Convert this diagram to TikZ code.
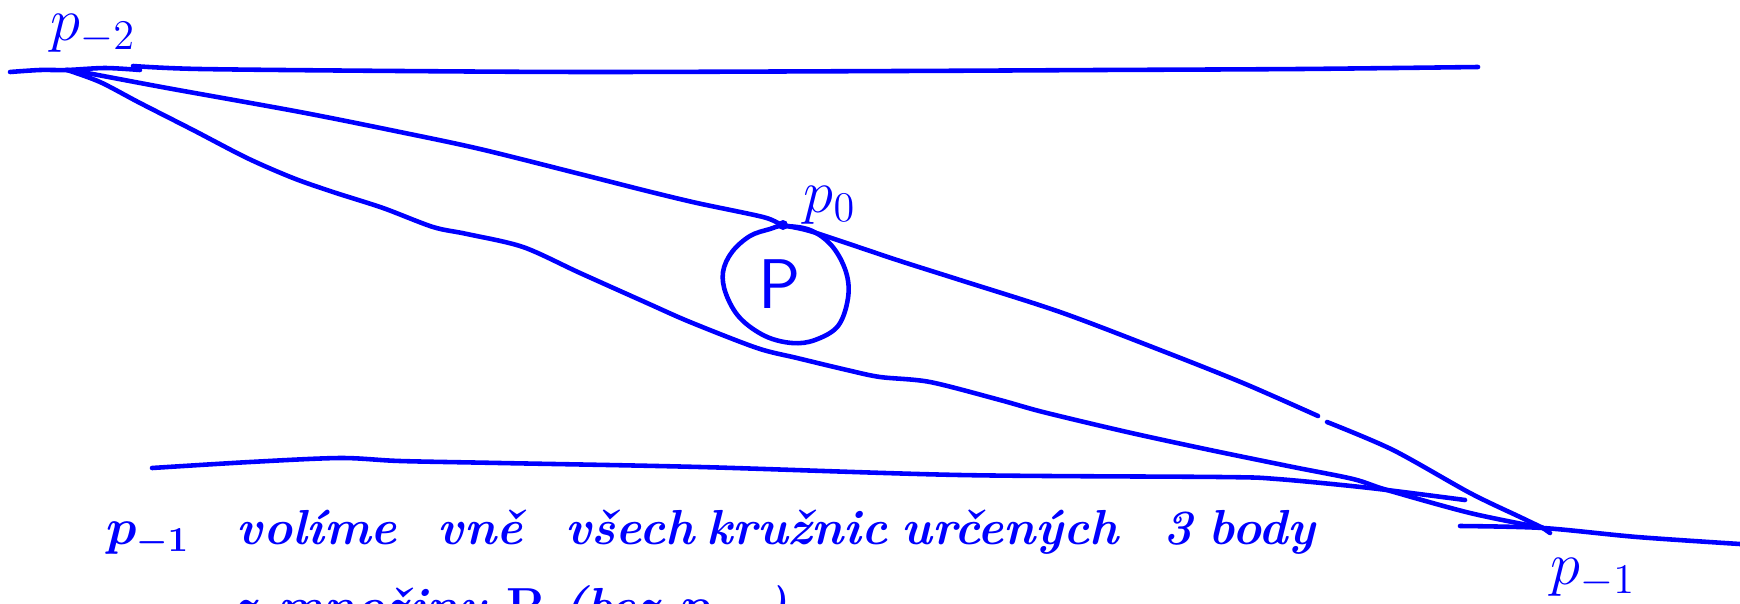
\documentclass[tikz,border=0pt]{standalone}
\usepackage{fontspec}
\definecolor{inkblue}{RGB}{0,0,255}
\begin{document}
\begin{tikzpicture}[x=0.01cm,y=-0.01cm,
  ink/.style={draw=inkblue, line width=1.3pt, line cap=round, line join=round},
  hand/.style={text=inkblue, inner sep=0pt, anchor=base, font=\bfseries\itshape\boldmath\fontsize{14}{17}\selectfont},
  lab/.style={text=inkblue, inner sep=0pt, anchor=base west, font=\fontsize{18}{20}\selectfont}]
\useasboundingbox (0,0) rectangle (1740,603);

% key points
\coordinate (pm2) at (67,70);
\coordinate (p0) at (783,225);
\coordinate (pm1) at (1543,528);
\coordinate (t0) at (10,72);
\coordinate (t1) at (1478,67);
\coordinate (b0) at (152,468);
\coordinate (b1) at (1465,500);
\coordinate (r0) at (1460,526);
\coordinate (r1) at (1740,544);
\coordinate (g0) at (1318,416);
\coordinate (g1) at (1327,422);

% top line
\draw[ink] plot[smooth, tension=0.5] coordinates {(t0) (40,70) (pm2) (105,68) (140,70)};
\draw[ink] plot[smooth, tension=0.5] coordinates {(133,66) (200,69) (400,71) (600,72) (900,71) (1100,70) (1300,69) (t1)};

% upper curve p-2 -> p0 -> p-1
\draw[ink] plot[smooth, tension=0.5] coordinates {(pm2) (87,73) (167,88) (300,112) (400,132) (480,149) (580,174) (647,191) (697,203) (763,217) (p0) (813,232) (897,260) (960,280) (1060,312) (1160,350) (1243,383) (g0)};
\draw[ink] plot[smooth, tension=0.5] coordinates {(g1) (1393,450) (1470,493) (1520,517) (pm1)};

% lower curve p-2 -> p-1
\draw[ink] plot[smooth, tension=0.5] coordinates {(pm2) (100,82) (140,103) (193,130) (247,158) (293,178) (333,192) (383,208) (433,227) (467,234) (523,247) (580,273) (647,303) (690,322) (757,348) (797,358) (847,370) (880,377) (930,382) (1000,400) (1043,412) (1127,432) (1210,450) (1293,467) (1353,479) (1387,490) (1470,513) (pm1)};

% bottom line
\draw[ink] plot[smooth, tension=0.5] coordinates {(b0) (250,462) (340,458) (400,461) (500,463) (700,467) (960,475) (1220,477) (1277,479) (1370,488) (b1)};

% line through p-1
\draw[ink] plot[smooth, tension=0.5] coordinates {(r0) (pm1) (1637,537) (r1)};
\draw[ink] (pm1) -- (1550,533);

% circle P
\draw[ink] plot[smooth cycle, tension=0.6] coordinates {(783,226) (810,230) (832,246) (846,272) (848,298) (838,326) (815,340) (792,343) (765,336) (740,318) (726,294) (723,272) (732,252) (750,236) (770,229)};
\fill[inkblue] (p0) circle (5);
\node[text=inkblue, inner sep=0pt, font=\sffamily\fontsize{20}{22}\selectfont] (Pl) at (780,284) {P};

% point labels
\node[lab] (lpm2) at (50,40) {$p_{-2}$};
\node[lab] (lp0) at (803,212) {$p_0$};
\node[lab] (lpm1) at (1550,584) {$p_{-1}$};

% text line 1
\node[hand] (w1) at (148,544) {$p_{-1}$};
\node[hand] (w2) at (317,544) {volíme};
\node[hand] (w3) at (480,544) {vně};
\node[hand] (w4) at (630,544) {všech};
\node[hand] (w5) at (797,544) {kružnic};
\node[hand] (w6) at (1010,544) {určených};
\node[hand] (w7) at (1178,544) {3};
\node[hand] (w8) at (1262,544) {body};

% text line 2 (cut off by the frame)
\node[hand, anchor=base west] (l2) at (232,622) {z množiny \upshape P \itshape (bez $p_{-1}$)};
\end{tikzpicture}
\end{document}
